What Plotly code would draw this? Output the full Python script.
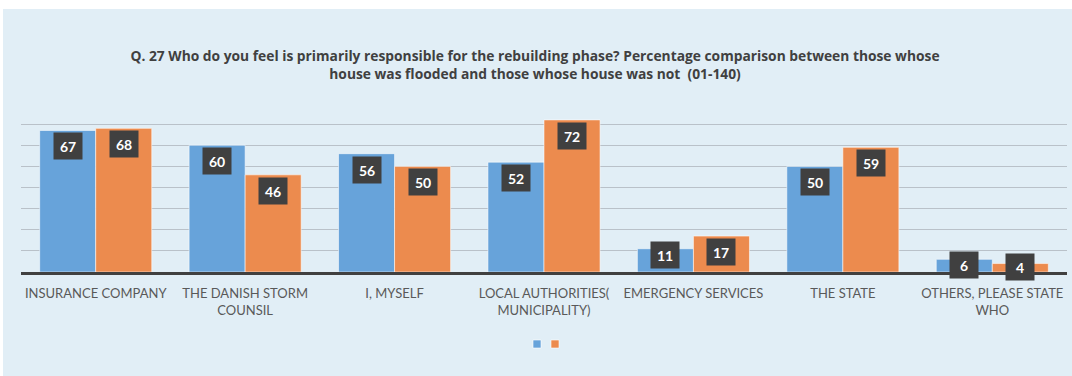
import plotly.graph_objects as go

# Survey question 27: who is primarily responsible for rebuilding (percent)
categories = [
    "INSURANCE COMPANY",
    "THE DANISH STORM<br>COUNSIL",
    "I, MYSELF",
    "LOCAL AUTHORITIES(<br>MUNICIPALITY)",
    "EMERGENCY SERVICES",
    "THE STATE",
    "OTHERS, PLEASE STATE<br>WHO",
]
flooded = [67, 60, 56, 52, 11, 50, 6]
not_flooded = [68, 46, 50, 72, 17, 59, 4]

title_text = ("Q. 27 Who do you feel is primarily responsible for the rebuilding phase? "
              "Percentage comparison between those whose<br>"
              "house was flooded and those whose house was not  (01-140)")

BLUE = "#67a3da"
ORANGE = "#ec8b4e"
PANEL = "#e1eef6"
INK = "#404040"

# plot-area geometry (pixels)
W, H = 1072, 376
M_L, M_R, M_T, M_B = 21, 5, 103, 104
PLOT_W = W - M_L - M_R
PLOT_H = H - M_T - M_B
Y_MAX = 80
px_per_unit = PLOT_H / Y_MAX

fig = go.Figure()
fig.add_trace(go.Bar(
    x=categories, y=flooded, name="House flooded", showlegend=False,
    marker=dict(color=BLUE, line=dict(color="rgba(255,255,255,0.55)", width=1)),
    hoverinfo="skip",
))
fig.add_trace(go.Bar(
    x=categories, y=not_flooded, name="House not flooded", showlegend=False,
    marker=dict(color=ORANGE, line=dict(color="rgba(255,255,255,0.55)", width=1)),
    hoverinfo="skip",
))

# small square legend keys, one legend box each so they sit close together
for col, lg in [(BLUE, "legend"), (ORANGE, "legend2")]:
    fig.add_trace(go.Scatter(
        x=[None], y=[None], mode="markers", name=" ", showlegend=True, legend=lg,
        marker=dict(symbol="square", size=8, color=col,
                    line=dict(color="rgba(255,255,255,0.6)", width=1)),
    ))

# dark value boxes: just inside the top of tall bars, straddling the top of short ones
BOX_H = 24
def label_center(v):
    bar_px = v * px_per_unit
    if bar_px >= BOX_H + 8:
        return v - (4 + BOX_H / 2) / px_per_unit
    centre = v - 6 / px_per_unit
    lowest = (BOX_H / 2 - 7) / px_per_unit
    return max(centre, lowest)

annotations = []
for series, shift in [(flooded, -28), (not_flooded, 28)]:
    for cat, v in zip(categories, series):
        annotations.append(dict(
            x=cat, y=label_center(v), xref="x", yref="y",
            xshift=shift, yanchor="middle", xanchor="center",
            text=f"<b>{v}</b>", showarrow=False,
            font=dict(family="Lato, Open Sans, sans-serif", size=14, color="white"),
            bgcolor=INK, width=26, height=BOX_H, valign="middle",
        ))

def legend_box(px_left):
    return dict(
        orientation="h", x=(px_left - M_L) / PLOT_W, xanchor="left",
        y=-(344 - (H - M_B)) / PLOT_H, yanchor="middle",
        bgcolor="rgba(0,0,0,0)", font=dict(size=10),
        itemclick=False, itemdoubleclick=False,
    )

fig.update_layout(
    width=W, height=H,
    margin=dict(l=M_L, r=M_R, t=M_T, b=M_B, pad=0),
    paper_bgcolor=PANEL,
    plot_bgcolor="rgba(0,0,0,0)",
    barmode="group", bargap=0.25, bargroupgap=0.0,
    title=dict(
        text=f"<b>{title_text}</b>",
        x=535 / W, xanchor="center",
        y=1 - 61 / H, yanchor="top", yref="container",
        font=dict(family="Open Sans, sans-serif", size=13.8, color=INK),
    ),
    xaxis=dict(
        showline=True, linecolor=INK, linewidth=3,
        showgrid=False, ticks="", ticklabelstandoff=7,
        tickfont=dict(family="Lato, sans-serif", size=13, color="#595959"),
        fixedrange=True,
    ),
    yaxis=dict(
        range=[0, Y_MAX], dtick=10, showticklabels=False,
        showgrid=True, gridcolor="#b9c1c9", gridwidth=1,
        zeroline=False, fixedrange=True,
    ),
    legend=legend_box(517),
    legend2=legend_box(535),
    annotations=annotations,
    shapes=[
        # white strip along the top and left edge of the panel
        dict(type="rect", xref="paper", yref="paper", layer="below",
             x0=-1, x1=2, y0=(H - M_B - 9) / PLOT_H, y1=4,
             fillcolor="white", line=dict(width=0)),
        dict(type="rect", xref="paper", yref="paper", layer="below",
             x0=-1, x1=-(M_L - 3) / PLOT_W, y0=-4, y1=4,
             fillcolor="white", line=dict(width=0)),
    ],
)

fig.write_html("out.html")
